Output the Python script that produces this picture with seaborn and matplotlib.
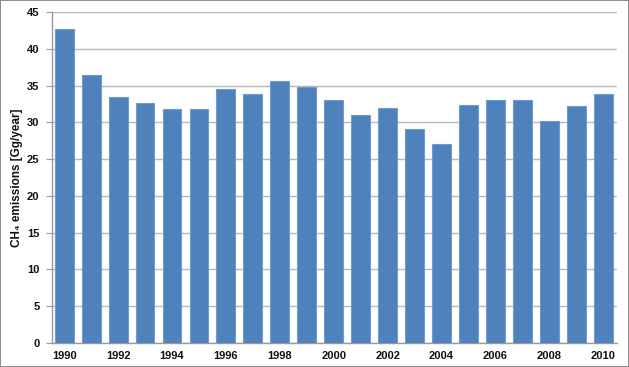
#!/usr/bin/env python3
"""Annual CH4 emissions bar chart, 1990-2010"""

import pandas as pd
import matplotlib
matplotlib.use("Agg")
import matplotlib.pyplot as plt
import seaborn as sns

# Data
years = list(range(1990, 2011))
emissions = [42.7, 36.4, 33.4, 32.6, 31.8, 31.8, 34.5, 33.9, 35.6, 34.8,
             33.1, 31.0, 31.9, 29.1, 27.0, 32.3, 33.0, 33.1, 30.2, 32.2, 33.9]
y_ticks = [0, 5, 10, 15, 20, 25, 30, 35, 40, 45]

df = pd.DataFrame({"year": [str(y) for y in years], "ch4": emissions})

sns.set_style("white")
plt.rcParams["font.family"] = ["Liberation Sans", "DejaVu Sans"]
plt.rcParams["font.weight"] = "bold"

fig = plt.figure(figsize=(6.29, 3.67), dpi=100)
fig.patch.set_edgecolor("#8c8c8c")
fig.patch.set_linewidth(1.2)
ax = fig.add_axes([0.0827, 0.0654, 0.898, 0.902])

sns.barplot(data=df, x="year", y="ch4", color="#4f81bd", saturation=1,
            width=0.7, edgecolor="#6f9bd0", linewidth=0.8, ax=ax, zorder=3)

ax.set_ylim(0, 45)
ax.set_xlim(-0.45, 20.5)
ax.set_yticks(y_ticks)
ax.set_yticklabels([str(t) for t in y_ticks], fontsize=8, fontweight="bold",
                   color="#111111")
ax.set_xticks(range(len(years)))
ax.set_xticklabels([str(y) if y % 2 == 0 else "" for y in years],
                   fontsize=8, fontweight="bold", color="#111111")
ax.grid(axis="y", color="#b8b8b8", linewidth=1, zorder=0)
ax.set_axisbelow(True)

for side in ["top", "right"]:
    ax.spines[side].set_visible(False)
for side in ["left", "bottom"]:
    ax.spines[side].set_color("#9a9a9a")
    ax.spines[side].set_linewidth(1)

ax.tick_params(axis="y", length=4, color="#9a9a9a", left=True, pad=5)
ax.tick_params(axis="x", length=0, pad=6)

ax.set_xlabel("")
ax.set_ylabel("CH\u2084 emissions [Gg/year]", fontsize=8.5, fontweight="bold",
              labelpad=3, color="#111111")

fig.savefig("out.png", dpi=100, edgecolor=fig.get_edgecolor())
